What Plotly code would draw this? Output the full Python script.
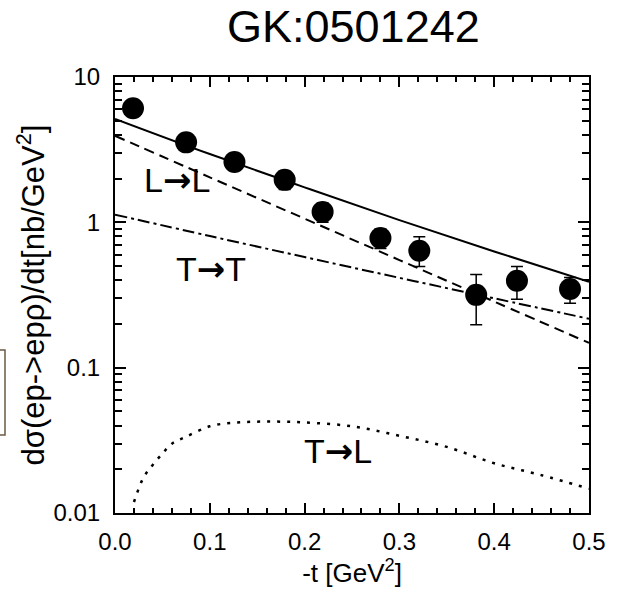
import math
import plotly.graph_objects as go

# Measured rho-meson cross section, d(sigma)/dt in nb/GeV^2
t_data = [0.019, 0.075, 0.126, 0.179, 0.219, 0.280, 0.321, 0.381, 0.424, 0.480]
xs_data = [6.1, 3.55, 2.6, 1.96, 1.18, 0.78, 0.637, 0.317, 0.396, 0.348]
err_plus = [0.35, 0.25, 0.2, 0.28, 0.18, 0.12, 0.16, 0.12, 0.10, 0.07]
err_minus = [0.35, 0.25, 0.2, 0.28, 0.18, 0.12, 0.14, 0.12, 0.10, 0.07]

# GK model curves
t_curve = [0.0, 0.1, 0.2, 0.3, 0.4, 0.5]
total = [5.15, 2.95, 1.74, 1.035, 0.63, 0.39]
l_to_l = [3.94, 2.04, 1.06, 0.55, 0.285, 0.148]
t_to_t = [1.13, 0.805, 0.577, 0.415, 0.30, 0.217]

t_tl = [0.02, 0.03, 0.04, 0.05, 0.06, 0.075, 0.1, 0.125, 0.15, 0.175,
        0.2, 0.25, 0.3, 0.35, 0.4, 0.45, 0.5]
t_to_l = [0.0119, 0.0175, 0.0215, 0.0256, 0.030, 0.0335, 0.0395, 0.0418,
          0.0425, 0.0425, 0.042, 0.0395, 0.034, 0.0285, 0.022, 0.0182, 0.0147]

# channel labels and their positions (t, cross section)
channel_text = ["L", "T", "T"]
channel_final = ["L", "T", "L"]
label_t = [0.065, 0.101, 0.235]
label_xs = [1.95, 0.48, 0.0265]

FONT = "Liberation Sans, Arial, sans-serif"
ARROW = '<span style="font-family:DejaVu Sans"><b>→</b></span>'

W, H = 620, 593
L, R, T, B = 115, 31, 77, 80
pw, ph = W - L - R, H - T - B


def px(xp):
    return (xp - L) / pw


def py(yp):
    return (H - B - yp) / ph


fig = go.Figure()

fig.add_trace(go.Scatter(x=t_curve, y=total, mode="lines", line_shape="spline",
                         line=dict(color="black", width=2)))
fig.add_trace(go.Scatter(x=t_curve, y=l_to_l, mode="lines", line_shape="spline",
                         line=dict(color="black", width=2, dash="10px,6px")))
fig.add_trace(go.Scatter(x=t_curve, y=t_to_t, mode="lines", line_shape="spline",
                         line=dict(color="black", width=2, dash="12px,4px,3px,4px")))
fig.add_trace(go.Scatter(x=t_tl, y=t_to_l, mode="lines", line_shape="spline",
                         line=dict(color="black", width=2.5, dash="3px,7px")))

fig.add_trace(go.Scatter(
    x=t_data, y=xs_data, mode="markers",
    marker=dict(symbol="circle", size=22, color="black"),
    error_y=dict(type="data", symmetric=False, array=err_plus, arrayminus=err_minus,
                 color="black", thickness=1.5, width=6),
))

for a, b, x, y in zip(channel_text, channel_final, label_t, label_xs):
    fig.add_annotation(x=x, y=math.log10(y), xref="x", yref="y",
                       text=f"{a}{ARROW}{b}", showarrow=False,
                       font=dict(family=FONT, size=34, color="black"))

fig.add_annotation(x=px(353), y=py(27), xref="paper", yref="paper",
                   xanchor="center", yanchor="middle", text="GK:0501242",
                   showarrow=False, font=dict(family=FONT, size=45, color="black"))

fig.update_layout(
    width=W, height=H,
    margin=dict(l=L, r=R, t=T, b=B),
    paper_bgcolor="white", plot_bgcolor="white",
    showlegend=False,
    font=dict(family=FONT, size=24, color="black"),
)

fig.update_xaxes(
    range=[0, 0.5], dtick=0.1, tickformat=".1f",
    showline=True, linecolor="black", linewidth=2, mirror="ticks",
    ticks="inside", ticklen=10, tickwidth=1.5, tickcolor="black",
    minor=dict(dtick=0.02, ticks="inside", ticklen=5, tickwidth=1.5, tickcolor="black"),
    showgrid=False, zeroline=False,
    ticklabelstandoff=6,
    title=dict(text="-t [GeV<sup>2</sup>]", font=dict(size=26), standoff=2),
)
fig.update_yaxes(
    type="log", range=[-2, 1],
    tickvals=[0.01, 0.1, 1, 10], ticktext=["0.01", "0.1", "1", "10"],
    showline=True, linecolor="black", linewidth=2, mirror="ticks",
    ticks="inside", ticklen=11, tickwidth=1.5, tickcolor="black",
    minor=dict(dtick="D1", ticks="inside", ticklen=7, tickwidth=1.5, tickcolor="black"),
    showgrid=False, zeroline=False,
    ticklabelstandoff=8,
    title=dict(text="dσ(ep->epρ)/dt[nb/GeV<sup>2</sup>]", font=dict(size=31), standoff=0),
)

# edge of a neighbouring frame on the left
fig.add_shape(type="path", xref="paper", yref="paper",
              path=f"M {px(0)} {py(350)} L {px(5)} {py(350)} "
                   f"L {px(5)} {py(435)} L {px(0)} {py(435)}",
              line=dict(color="#6b5a45", width=1.5))

fig.write_html("out.html")
